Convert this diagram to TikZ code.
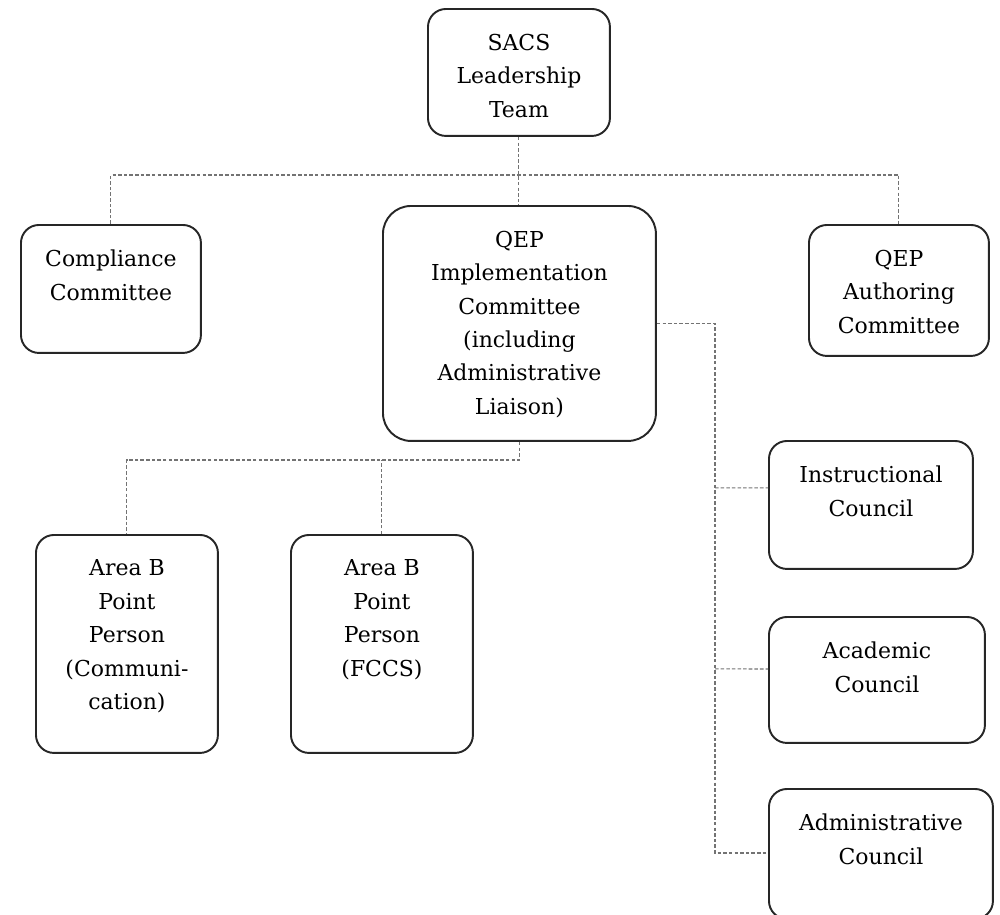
\documentclass[tikz,border=0pt]{standalone}
\usepackage{fontspec}
\setmainfont{DejaVu Serif}
\usetikzlibrary{positioning}

% text of a box, set from its top
\newcommand{\boxtext}[3]{\parbox[t][#2][t]{#1}{\centering\vspace*{0.5cm}#3}}

\tikzset{
    orgbox/.style={draw=black!85, line width=1.1pt, rounded corners=0.36cm, inner sep=0pt,
        anchor=north west, font=\fontsize{12.5}{19}\selectfont},
    link/.style={draw=black!55, line width=0.6pt, dash pattern=on 2pt off 1.2pt}
}

\begin{document}
\begin{tikzpicture}[x=0.02cm, y=-0.02cm]
    \useasboundingbox (0,0) rectangle (1000,914);

    % top level
    \node[orgbox] (sacs) at (427,8) {\boxtext{3.64cm}{2.54cm}{SACS\\Leadership\\Team}};

    % committees
    \node[orgbox] (comp) at (20,224) {\boxtext{3.6cm}{2.56cm}{Compliance\\Committee}};
    \node[orgbox, rounded corners=0.56cm] (impl) at (382,205)
        {\boxtext{5.46cm}{4.7cm}{QEP\\Implementation\\Committee\\(including\\Administrative\\Liaison)}};
    \node[orgbox] (auth) at (808,224) {\boxtext{3.6cm}{2.62cm}{QEP\\Authoring\\Committee}};

    % point persons
    \node[orgbox] (areacomm) at (35,534) {\boxtext{3.64cm}{4.36cm}{Area B\\Point\\Person\\(Communi-\\cation)}};
    \node[orgbox] (areafccs) at (290,534) {\boxtext{3.64cm}{4.36cm}{Area B\\Point\\Person\\(FCCS)}};

    % councils
    \node[orgbox] (instr) at (768,440) {\boxtext{4.08cm}{2.56cm}{Instructional\\Council}};
    \node[orgbox] (acad) at (768,616) {\boxtext{4.32cm}{2.52cm}{Academic\\Council}};
    \node[orgbox] (admin) at (768,788) {\boxtext{4.48cm}{2.6cm}{Administrative\\Council}};

    % connectors
    \coordinate (topbus) at (518,175);
    \coordinate (lowbus) at (518,460);
    \coordinate (rbus) at (715,853);

    \draw[link] (sacs.south) -- (sacs.south |- impl.north);
    \draw[link] (comp.north) |- (topbus) -| (auth.north);

    \draw[link] (impl.south) -- (impl.south |- lowbus) -| (areacomm.north);
    \draw[link] (areafccs.north) -- (areafccs.north |- lowbus);

    \draw[link] (impl.east) -| (rbus) -- (admin.west |- rbus);
    \draw[link] (rbus |- instr.west) ++(0,-17) -- ([yshift=0.34cm]instr.west);
    \draw[link] (rbus |- acad.west) ++(0,-11) -- ([yshift=0.22cm]acad.west);
\end{tikzpicture}
\end{document}
